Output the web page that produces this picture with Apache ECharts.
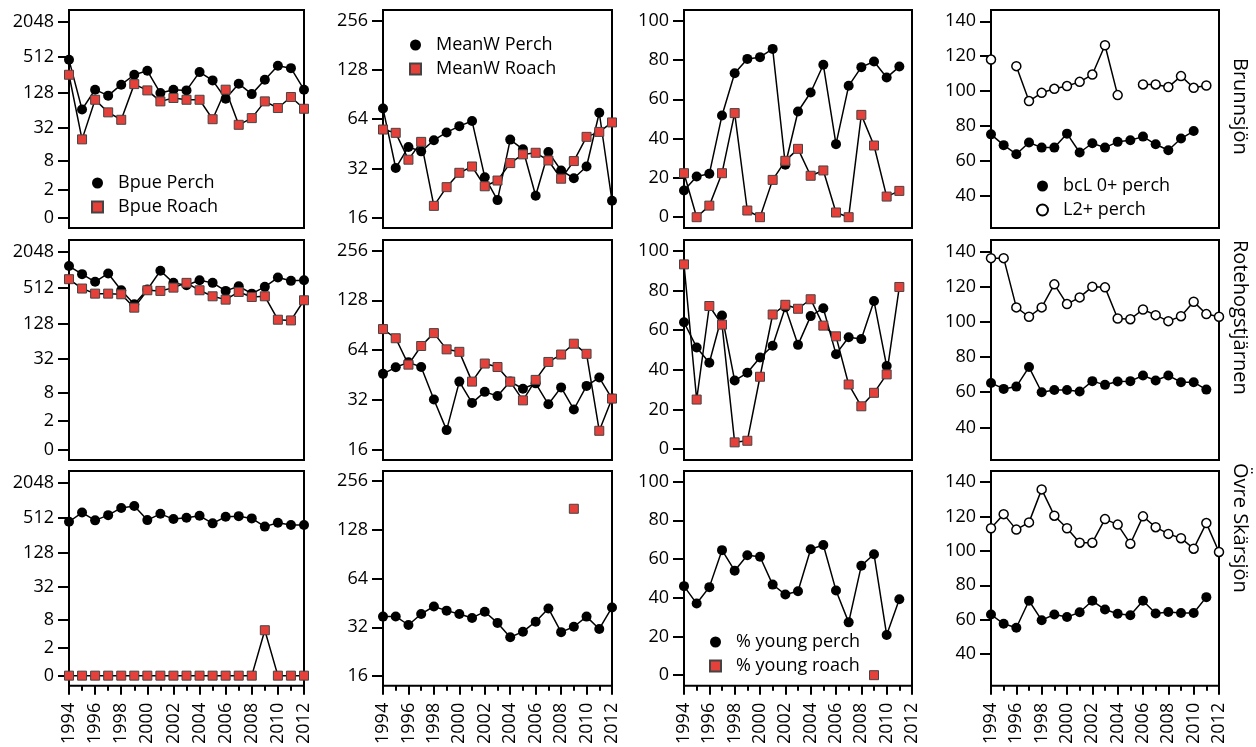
<!DOCTYPE html>
<html>
<head>
<meta charset="utf-8">
<script src="https://cdn.jsdelivr.net/npm/echarts@6/dist/echarts.min.js"></script>
<style>
  html, body { margin: 0; padding: 0; background: #fff; }
  #main { width: 1256px; height: 747px; }
</style>
</head>
<body>
<div id="main"></div>
<script>
// years on the x axis
var years = [1994, 1995, 1996, 1997, 1998, 1999, 2000, 2001, 2002, 2003, 2004, 2005, 2006, 2007, 2008, 2009, 2010, 2011, 2012];
var lakes = ["Brunnsjön", "Rotehogstjärnen", "Övre Skärsjön"];

// tick labels
var bpueTicks = [0, 2, 8, 32, 128, 512, 2048];
var meanwTicks = [16, 32, 64, 128, 256];
var pctTicks = [0, 20, 40, 60, 80, 100];
var lenTicks = [40, 60, 80, 100, 120, 140];

// Bpue (log2(x+1) axis)
var bpuePerchBrunn = [462, 66, 144, 114, 175, 258, 301, 126, 144, 140, 286, 207, 101, 182, 121, 212, 366, 334, 144];
var bpueRoachBrunn = [258, 20, 97, 59, 44, 179, 140, 91, 104, 97, 97, 45, 144, 36, 47, 91, 70, 108, 68];
var bpuePerchRote = [1176, 861, 640, 884, 462, 269, 475, 980, 615, 562, 682, 615, 451, 540, 406, 527, 756, 665, 682];
var bpueRoachRote = [709, 494, 406, 406, 396, 236, 462, 451, 512, 615, 462, 366, 322, 433, 357, 366, 148, 144, 314];
var bpuePerchOvre = [433, 623, 457, 562, 747, 807, 462, 592, 481, 506, 548, 406, 527, 540, 494, 357, 417, 381, 381];
var bpueRoachOvre = [0, 0, 0, 0, 0, 0, 0, 0, 0, 0, 0, 0, 0, 0, 0, 5, 0, 0, 0];

// mean weight (log2 axis)
var meanwPerchBrunn = [74.5, 32.3, 43.4, 40.8, 47.7, 53.2, 58.1, 62.4, 28.4, 20.6, 48.1, 42.0, 21.9, 40.4, 31.2, 28.0, 33.0, 70.1, 20.4];
var meanwRoachBrunn = [55.4, 52.9, 36.3, 46.6, 19.0, 24.7, 30.2, 33.0, 25.0, 27.1, 34.6, 39.1, 40.0, 35.9, 27.8, 35.6, 50.0, 53.6, 61.2];
var meanwPerchRote = [46.1, 50.5, 54.1, 50.7, 32.3, 21.1, 41.4, 30.8, 35.9, 33.9, 41.4, 37.5, 40.4, 30.2, 38.2, 28.1, 39.0, 43.8, 32.7];
var meanwRoachRote = [85.9, 75.6, 52.4, 67.9, 81.2, 64.8, 62.6, 41.4, 53.2, 50.7, 41.4, 31.9, 42.4, 54.4, 60.3, 70.1, 60.9, 20.9, 32.7];
var meanwPerchOvre = [37.3, 37.4, 33.1, 38.7, 43.1, 40.6, 38.7, 36.6, 40.0, 34.1, 27.8, 30.1, 34.7, 41.9, 29.9, 32.3, 37.3, 31.3, 42.5];
var meanwRoachOvre = [null, null, null, null, null, null, null, null, null, null, null, null, null, null, null, 173, null, null, null];

// % young
var youngPerchBrunn = [13.6, 20.7, 22.1, 51.8, 73.3, 80.6, 81.5, 85.7, 26.7, 53.8, 63.5, 77.6, 37.2, 66.9, 76.4, 79.3, 71.1, 76.7, null];
var youngRoachBrunn = [22.4, 0, 5.9, 22.4, 53.0, 3.4, 0, 19.0, 28.7, 34.8, 21.1, 23.8, 2.4, 0, 52.1, 36.5, 10.5, 13.4, null];
var youngPerchRote = [64.0, 51.3, 43.6, 67.4, 34.6, 38.5, 46.2, 52.1, 71.6, 52.6, 67.1, 71.1, 47.9, 56.4, 55.5, 74.7, 41.9, null, null];
var youngRoachRote = [93.2, 25.0, 72.2, 62.8, 3.4, 4.2, 36.5, 67.9, 72.8, 70.8, 75.6, 62.3, 56.9, 32.6, 21.6, 28.4, 37.7, 81.8, null];
var youngPerchOvre = [46.0, 37.0, 45.5, 64.6, 54.0, 62.0, 61.2, 46.8, 41.7, 43.4, 65.1, 67.3, 43.8, 27.3, 56.6, 62.5, 20.8, 39.2, null];
var youngRoachOvre = [null, null, null, null, null, null, null, null, null, null, null, null, null, null, null, 0, null, null, null];

// lengths
var bclBrunn = [75.2, 69.0, 63.8, 70.5, 67.6, 67.6, 75.6, 64.8, 70.1, 67.6, 70.9, 71.8, 73.9, 69.5, 66.1, 72.8, 77.1, null, null];
var l2Brunn = [118.1, null, 114.3, 94.3, 99.0, 101.3, 102.9, 105.3, 109.5, 126.3, 97.7, null, 103.8, 103.8, 102.3, 108.6, 101.9, 103.2, null];
var bclRote = [65.3, 61.9, 63.2, 74.3, 60.0, 61.3, 61.3, 60.4, 66.3, 64.2, 66.1, 66.3, 69.5, 66.7, 69.5, 65.7, 65.7, 61.5, null];
var l2Rote = [136.2, 136.2, 108.2, 102.9, 108.2, 121.3, 110.1, 113.9, 120.0, 119.6, 101.9, 101.5, 107.0, 103.8, 100.4, 103.2, 111.4, 104.4, 102.9];
var bclOvre = [63.0, 57.6, 55.3, 71.0, 59.7, 63.0, 61.5, 64.3, 71.0, 65.9, 63.4, 62.6, 71.0, 63.6, 64.5, 63.9, 63.9, 73.1, null];
var l2Ovre = [113.2, 121.4, 112.4, 116.6, 135.8, 120.5, 113.2, 104.8, 104.8, 118.5, 115.3, 104.2, 120.1, 113.8, 109.9, 107.4, 101.3, 116.2, 99.4];

(function () {
  var myChart = echarts.init(document.getElementById('main'));
  var fnt = 'Open Sans';
  var red = '#e5413a';

  // panel boxes
  var cols = [{ left: 69, width: 235 }, { left: 383, width: 229 }, { left: 684, width: 228 }, { left: 991, width: 228 }];
  var rows = [{ top: 10, height: 218 }, { top: 240, height: 220 }, { top: 471, height: 217 }];

  var ident = function (v) { return v; };
  var scales = [
    { min: -0.58, max: 11.65, ticks: bpueTicks,
      fwd: function (v) { return Math.log2(v + 1); },
      back: function (t) { return Math.round(Math.pow(2, t) - 1); } },
    { min: 3.8, max: 8.21, ticks: meanwTicks,
      fwd: function (v) { return Math.log2(v); },
      back: function (t) { return Math.round(Math.pow(2, t)); } },
    { min: -5.5, max: 105.5, ticks: pctTicks, fwd: ident, back: function (t) { return Math.round(t); } },
    { min: 21.5, max: 146.5, ticks: lenTicks, fwd: ident, back: function (t) { return Math.round(t); } }
  ];

  // [row][col] -> list of [name, data, kind]
  var panels = [
    [
      [['Bpue Perch', bpuePerchBrunn, 'perch'], ['Bpue Roach', bpueRoachBrunn, 'roach']],
      [['MeanW Perch', meanwPerchBrunn, 'perch'], ['MeanW Roach', meanwRoachBrunn, 'roach']],
      [['% young perch', youngPerchBrunn, 'perch'], ['% young roach', youngRoachBrunn, 'roach']],
      [['bcL 0+ perch', bclBrunn, 'perch'], ['L2+ perch', l2Brunn, 'open']]
    ],
    [
      [['Bpue Perch', bpuePerchRote, 'perch'], ['Bpue Roach', bpueRoachRote, 'roach']],
      [['MeanW Perch', meanwPerchRote, 'perch'], ['MeanW Roach', meanwRoachRote, 'roach']],
      [['% young perch', youngPerchRote, 'perch'], ['% young roach', youngRoachRote, 'roach']],
      [['bcL 0+ perch', bclRote, 'perch'], ['L2+ perch', l2Rote, 'open']]
    ],
    [
      [['Bpue Perch', bpuePerchOvre, 'perch'], ['Bpue Roach', bpueRoachOvre, 'roach']],
      [['MeanW Perch', meanwPerchOvre, 'perch'], ['MeanW Roach', meanwRoachOvre, 'roach']],
      [['% young perch', youngPerchOvre, 'perch'], ['% young roach', youngRoachOvre, 'roach']],
      [['bcL 0+ perch', bclOvre, 'perch'], ['L2+ perch', l2Ovre, 'open']]
    ]
  ];

  var styles = {
    perch: { symbol: 'circle', symbolSize: 10, itemStyle: { color: '#000' } },
    roach: { symbol: 'rect', symbolSize: 9, itemStyle: { color: red, borderColor: '#444', borderWidth: 1 } },
    open: { symbol: 'circle', symbolSize: 9, itemStyle: { color: '#fff', borderColor: '#000', borderWidth: 1.5 } }
  };

  var grid = [], xAxis = [], yAxis = [], series = [];
  var idx = 0;
  for (var r = 0; r < 3; r++) {
    for (var c = 0; c < 4; c++) {
      var sc = scales[c];
      var last = r === 2;
      grid.push({
        left: cols[c].left, width: cols[c].width, top: rows[r].top, height: rows[r].height,
        show: true, borderColor: '#000', borderWidth: 2, backgroundColor: 'transparent'
      });
      xAxis.push({
        type: 'value', gridIndex: idx, min: 1994, max: 2012, interval: 2,
        axisLine: { show: false, onZero: false },
        splitLine: { show: false },
        axisTick: { show: last, length: 9, lineStyle: { color: '#000', width: 2 } },
        minorTick: { show: last, splitNumber: 2, length: 5, lineStyle: { color: '#000', width: 2 } },
        axisLabel: { show: last, rotate: 90, margin: 17, color: '#000', fontFamily: fnt, fontSize: 18,
          formatter: function (v) { return String(v); } }
      });
      yAxis.push({
        type: 'value', gridIndex: idx, min: sc.min, max: sc.max,
        axisLine: { show: false, onZero: false },
        splitLine: { show: false },
        axisTick: { show: true, length: 11, lineStyle: { color: '#000', width: 2 },
          customValues: sc.ticks.map(sc.fwd) },
        axisLabel: { color: '#000', fontFamily: fnt, fontSize: 18, margin: 15,
          customValues: sc.ticks.map(sc.fwd), formatter: sc.back }
      });
      panels[r][c].forEach(function (s) {
        var st = styles[s[2]];
        series.push({
          name: s[0], type: 'line', xAxisIndex: idx, yAxisIndex: idx,
          symbol: st.symbol, symbolSize: st.symbolSize, itemStyle: st.itemStyle,
          showAllSymbol: true, connectNulls: false,
          lineStyle: { color: '#000', width: 1.5 },
          emphasis: { disabled: true },
          data: years.map(function (y, i) {
            var v = s[1][i];
            return [y, v == null ? null : sc.fwd(v)];
          })
        });
      });
      idx++;
    }
  }

  function legendAt(left, top, items) {
    return {
      left: left, top: top, orient: 'vertical', itemGap: 6, itemWidth: 11, itemHeight: 11,
      selectedMode: false,
      textStyle: { color: '#000', fontFamily: fnt, fontSize: 18, padding: [0, 0, 0, 10] },
      data: items
    };
  }

  var legend = [
    legendAt(86, 169, [{ name: 'Bpue Perch', icon: 'circle' }, { name: 'Bpue Roach', icon: 'rect' }]),
    legendAt(404, 31, [{ name: 'MeanW Perch', icon: 'circle' }, { name: 'MeanW Roach', icon: 'rect' }]),
    legendAt(704, 628, [{ name: '% young perch', icon: 'circle' }, { name: '% young roach', icon: 'rect' }]),
    legendAt(1031, 172, [{ name: 'bcL 0+ perch', icon: 'circle' }, { name: 'L2+ perch', icon: 'circle' }])
  ];

  // lake names on the right side, reading top to bottom
  var lakeTops = [58, 240, 463];
  var graphic = lakes.map(function (name, i) {
    return {
      type: 'text', x: 1240, y: lakeTops[i], rotation: -Math.PI / 2,
      style: { text: name, fill: '#000', font: '20px "Open Sans"', textAlign: 'left', textVerticalAlign: 'middle' }
    };
  });

  var option = {
    animation: false,
    backgroundColor: '#fff',
    grid: grid,
    xAxis: xAxis,
    yAxis: yAxis,
    legend: legend,
    graphic: graphic,
    series: series
  };

  myChart.setOption(option);

  window.addEventListener('resize', function () {
    myChart.resize();
  });
})();
</script>
</body>
</html>
